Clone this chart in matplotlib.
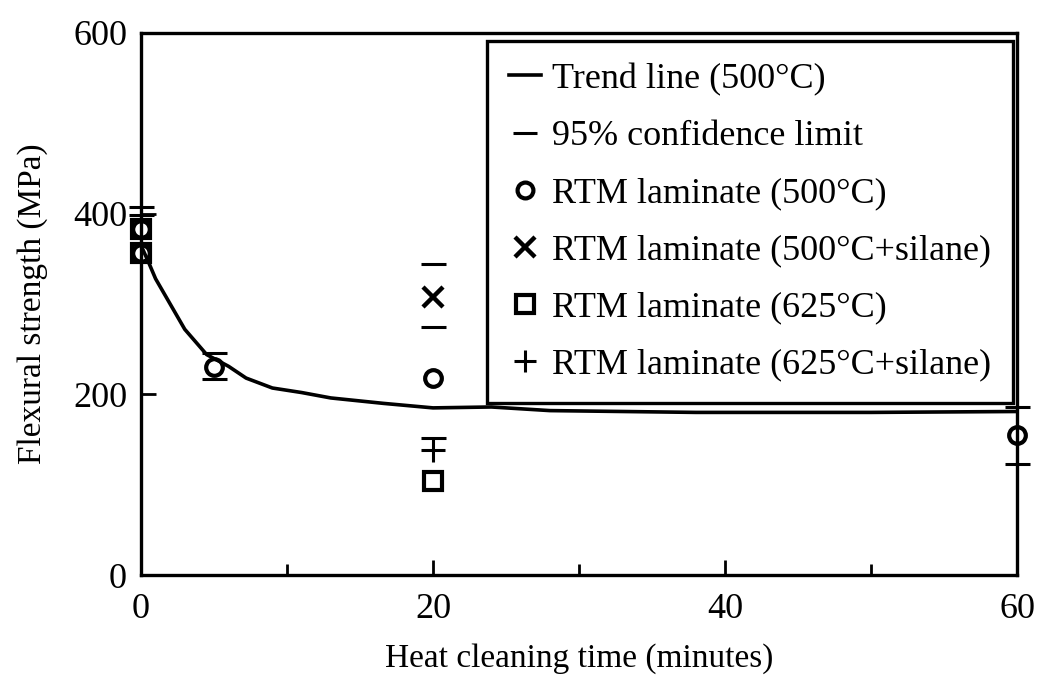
import matplotlib
matplotlib.use("Agg")
import matplotlib.pyplot as plt
from matplotlib.ticker import MultipleLocator

plt.rcParams['font.family'] = ['Liberation Serif', 'DejaVu Serif']

# trend line (500C)
trend_t = [0, 0.5, 1, 2, 3, 4.5, 6, 7.2, 9, 11, 13, 16.6, 20, 24, 28, 38, 50, 60]
trend_v = [365, 347, 328, 300, 272, 244, 231, 218, 207, 202, 196, 190, 185, 186, 182, 180, 180, 181]

# 95% confidence limits
conf_t = [0, 0, 5, 5, 20, 20, 20, 60, 60]
conf_v = [407, 398, 246, 217, 344, 275, 152, 186, 123]

# measured laminates
c500_t = [0, 0, 5, 20, 60]
c500_v = [383, 357, 230, 218, 155]
c500s_t = [20]
c500s_v = [308]
c625_t = [0, 0, 20]
c625_v = [383, 357, 104]
c625s_t = [20]
c625s_v = [138]

fig = plt.figure(figsize=(10.38, 6.86), dpi=100)
ax = fig.add_axes([0.1358, 0.1618, 0.8440, 0.7901])

lw = 2.6
ax.plot(trend_t, trend_v, color='black', lw=lw, label='Trend line (500\u00b0C)')
ax.plot(conf_t, conf_v, ls='none', marker='_', ms=18, mew=2.2, color='black',
        label='95% confidence limit', clip_on=False)
ax.plot(c500_t, c500_v, ls='none', marker='o', ms=12, mew=3.0, mfc='none', mec='black',
        label='RTM laminate (500\u00b0C)', clip_on=False)
ax.plot(c500s_t, c500s_v, ls='none', marker='x', ms=15, mew=3.2, color='black',
        label='RTM laminate (500\u00b0C+silane)', clip_on=False)
ax.plot(c625_t, c625_v, ls='none', marker='s', ms=13, mew=3.0, mfc='none', mec='black',
        label='RTM laminate (625\u00b0C)', clip_on=False)
ax.plot(c625s_t, c625s_v, ls='none', marker='+', ms=17, mew=2.2, color='black',
        label='RTM laminate (625\u00b0C+silane)', clip_on=False)

ax.set_xlim(0, 60)
ax.set_ylim(0, 600)
ax.xaxis.set_major_locator(MultipleLocator(20))
ax.xaxis.set_minor_locator(MultipleLocator(10))
ax.yaxis.set_major_locator(MultipleLocator(200))
ax.tick_params(axis='x', which='major', direction='in', length=11, width=2,
               labelsize=26, pad=13, top=False)
ax.tick_params(axis='x', which='minor', direction='in', length=8, width=2, top=False)
ax.tick_params(axis='y', which='major', direction='in', length=11, width=2,
               labelsize=26, pad=10, right=False)
for s in ax.spines.values():
    s.set_linewidth(2.4)

ax.set_xlabel('Heat cleaning time (minutes)', fontsize=24, labelpad=12)
ax.set_ylabel('Flexural strength (MPa)', fontsize=24, labelpad=18)

leg = ax.legend(loc='upper left', bbox_to_anchor=(0.395, 0.985), fontsize=26,
                frameon=True, fancybox=False, framealpha=1, edgecolor='black',
                handlelength=0.9, handletextpad=0.3, labelspacing=0.66,
                borderpad=0.6, borderaxespad=0, markerscale=0.95)
leg.get_frame().set_linewidth(2.4)

fig.savefig('out.png', dpi=100)
